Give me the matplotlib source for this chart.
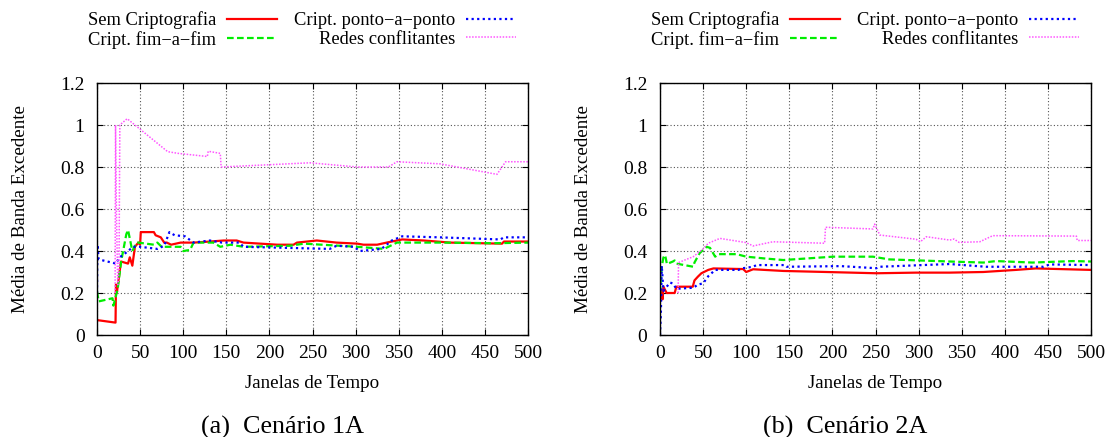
import matplotlib
matplotlib.use("Agg")
import matplotlib.pyplot as plt

plt.rcParams['font.family'] = ['Liberation Serif', 'DejaVu Serif']

# ---------------- Cenário 1A ----------------
a_sem_x = [0, 21.5, 22, 23, 27.8, 36, 38, 41, 44, 48, 50, 50.8, 66, 68, 74, 78, 81, 86, 97, 112, 131, 147, 162, 170, 209, 228, 232, 255, 278, 302, 309, 325, 336, 354, 379, 410, 470, 472, 500]
a_sem_y = [0.071, 0.059, 0.24, 0.2, 0.35, 0.34, 0.37, 0.33, 0.42, 0.44, 0.43, 0.49, 0.49, 0.475, 0.465, 0.44, 0.44, 0.43, 0.44, 0.44, 0.445, 0.45, 0.45, 0.44, 0.43, 0.43, 0.44, 0.45, 0.44, 0.435, 0.43, 0.43, 0.44, 0.455, 0.45, 0.44, 0.435, 0.445, 0.445]

a_fim_x = [0, 2, 18, 19, 21, 24, 28, 34, 36, 39, 41, 46, 48, 66, 70, 75, 97, 100, 108, 112, 135, 143, 155, 170, 224, 240, 302, 333, 348, 400, 460, 500]
a_fim_y = [0.206, 0.16, 0.175, 0.14, 0.17, 0.22, 0.35, 0.48, 0.5, 0.44, 0.40, 0.44, 0.44, 0.43, 0.44, 0.42, 0.42, 0.40, 0.405, 0.44, 0.44, 0.42, 0.43, 0.42, 0.425, 0.435, 0.42, 0.41, 0.44, 0.44, 0.437, 0.44]

a_ponto_x = [0, 0.5, 2, 22, 26, 30, 42, 50, 70, 78, 84, 90, 102, 112, 131, 145, 165, 170, 270, 278, 298, 305, 330, 342, 354, 398, 468, 472, 500]
a_ponto_y = [0.2, 0.43, 0.36, 0.34, 0.37, 0.38, 0.42, 0.42, 0.41, 0.425, 0.49, 0.475, 0.47, 0.44, 0.45, 0.44, 0.44, 0.42, 0.41, 0.425, 0.42, 0.40, 0.41, 0.45, 0.47, 0.465, 0.455, 0.465, 0.465]

a_redes_x = [21, 21.5, 22.5, 24, 25.5, 26.5, 35, 82, 94, 128, 129, 143, 144, 247, 302, 338, 348, 398, 464, 474, 500]
a_redes_y = [0.2, 1.0, 0.6, 0.24, 0.3, 1.0, 1.03, 0.873, 0.865, 0.85, 0.875, 0.865, 0.80, 0.82, 0.80, 0.80, 0.825, 0.815, 0.765, 0.825, 0.825]

# ---------------- Cenário 2A ----------------
b_sem_x = [2, 3, 4, 7.7, 17, 19, 38, 40, 44, 48, 56, 62, 96.5, 100, 108, 143, 193, 251, 297, 336, 375, 413, 436, 500]
b_sem_y = [0.21, 0.17, 0.23, 0.2, 0.2, 0.23, 0.23, 0.26, 0.278, 0.294, 0.31, 0.317, 0.314, 0.3, 0.313, 0.305, 0.3, 0.294, 0.297, 0.297, 0.3, 0.31, 0.317, 0.31]

b_fim_x = [0, 2, 4, 6, 8, 15, 17, 19, 38.6, 40, 46, 54, 58, 64, 68, 89, 100, 120, 143, 201, 247, 266, 336, 375, 390, 432, 479, 500]
b_fim_y = [0.2, 0.325, 0.37, 0.38, 0.338, 0.35, 0.355, 0.34, 0.325, 0.345, 0.39, 0.42, 0.415, 0.373, 0.385, 0.385, 0.373, 0.365, 0.357, 0.373, 0.373, 0.36, 0.35, 0.345, 0.352, 0.345, 0.352, 0.35]

b_ponto_x = [0, 1, 2, 4, 11.6, 15, 19, 38.6, 44, 50, 56, 64, 91, 96, 108, 112, 145, 147, 210, 251, 255, 336, 378, 445, 452, 500]
b_ponto_y = [0.0, 0.1, 0.33, 0.21, 0.25, 0.245, 0.22, 0.225, 0.24, 0.246, 0.28, 0.31, 0.31, 0.318, 0.325, 0.333, 0.333, 0.325, 0.328, 0.318, 0.325, 0.338, 0.325, 0.325, 0.336, 0.333]

b_redes_x = [21, 21.5, 38.6, 50, 56, 69.5, 100, 108, 131, 191, 192, 247, 249, 255, 297, 302, 309, 336, 341, 347, 371, 386, 483, 484, 500]
b_redes_y = [0.2, 0.345, 0.373, 0.41, 0.437, 0.46, 0.44, 0.424, 0.444, 0.437, 0.513, 0.505, 0.528, 0.476, 0.456, 0.444, 0.468, 0.452, 0.457, 0.441, 0.444, 0.473, 0.471, 0.45, 0.45]

labels = ["Sem Criptografia", "Cript. fim\u2212a\u2212fim", "Cript. ponto\u2212a\u2212ponto", "Redes conflitantes"]
captions = ["(a)  Cenário 1A", "(b)  Cenário 2A"]
x_ticks = [0, 50, 100, 150, 200, 250, 300, 350, 400, 450, 500]
y_ticks = [0, 0.2, 0.4, 0.6, 0.8, 1.0, 1.2]
y_ticklabels = ["0", "0.2", "0.4", "0.6", "0.8", "1", "1.2"]

panels = [
    (a_sem_x, a_sem_y, a_fim_x, a_fim_y, a_ponto_x, a_ponto_y, a_redes_x, a_redes_y),
    (b_sem_x, b_sem_y, b_fim_x, b_fim_y, b_ponto_x, b_ponto_y, b_redes_x, b_redes_y),
]

FIG_W, FIG_H = 1110, 437
fig = plt.figure(figsize=(FIG_W / 100, FIG_H / 100), dpi=100)
left_px = [97, 660]
AX_W_PX = 431
TOP_PX, BOT_PX = 83, 335
W = AX_W_PX / FIG_W
B = (FIG_H - BOT_PX) / FIG_H
H = (BOT_PX - TOP_PX) / FIG_H

for i, p in enumerate(panels):
    ax = fig.add_axes([left_px[i] / FIG_W, B, W, H])
    sx, sy, fx, fy, px, py, rx, ry = p
    l1, = ax.plot(sx, sy, color='#ff0000', lw=1.6, ls='-')
    l2, = ax.plot(fx, fy, color='#00ee00', lw=1.6, ls=(0, (3, 1.5)))
    l3, = ax.plot(px, py, color='#0000ff', lw=1.6, ls=(0, (1, 1.5)))
    l4, = ax.plot(rx, ry, color='#ff55ff', lw=1.1, ls=(0, (1, 1)))
    ax.set_xlim(0, 500)
    ax.set_ylim(0, 1.2)
    ax.set_xticks(x_ticks)
    ax.set_yticks(y_ticks)
    ax.set_yticklabels(y_ticklabels)
    ax.tick_params(direction='in', top=True, right=True, labelsize=14, length=4)
    ax.tick_params(axis='x', pad=7)
    ax.tick_params(axis='y', pad=9)
    ax.grid(True, color='#555555', ls=(0, (1, 2)), lw=0.8)
    for s in ax.spines.values():
        s.set_linewidth(1.0)
    ax.set_xlabel("Janelas de Tempo", fontsize=13.7, va='center')
    ax.xaxis.set_label_coords(0.5, (BOT_PX - 383) / (BOT_PX - TOP_PX))
    ax.set_ylabel("Média de Banda Excedente", fontsize=13.7, va='center')
    ax.yaxis.set_label_coords(-76 / AX_W_PX, 0.5)
    ax.legend([l1, l2, l3, l4], labels,
              ncol=2, frameon=False, markerfirst=False, fontsize=13.3,
              loc='center right', bbox_to_anchor=((516 - left_px[0]) / AX_W_PX, 1 + (TOP_PX - 30) / (BOT_PX - TOP_PX)),
              handlelength=2.7, handletextpad=0.6, columnspacing=0.9,
              labelspacing=0.1, borderaxespad=0, borderpad=0)
    cx = (left_px[i] + AX_W_PX / 2 - 30) / FIG_W
    fig.text(cx, 1 - 427 / FIG_H, captions[i], fontsize=18.8, ha='center', va='center')

fig.savefig("out.png", dpi=100)
